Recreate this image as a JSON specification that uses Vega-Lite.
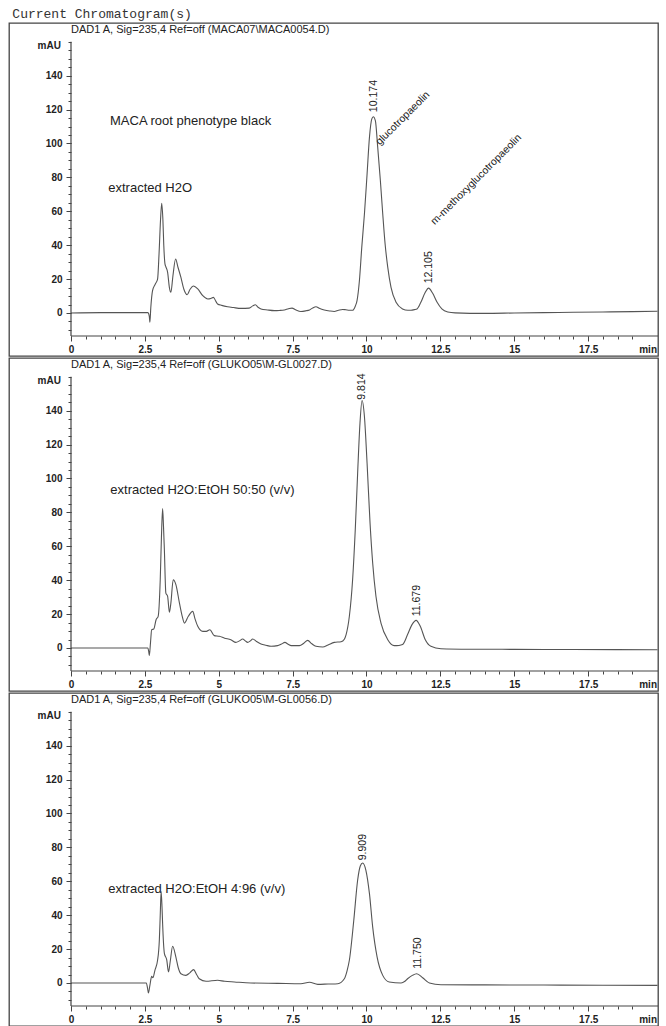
{
 "$schema": "https://vega.github.io/schema/vega-lite/v6.json",
 "background": "white",
 "padding": {"left": 8, "top": 8, "right": 0, "bottom": 0},
 "title": {"text": "Current Chromatogram(s)", "anchor": "start", "font": "Liberation Mono", "fontSize": 13, "fontWeight": "normal", "color": "#333", "offset": 1, "dx": 4},
 "config": {
  "view": {"stroke": "#444", "strokeWidth": 1.3},
  "font": "Liberation Sans",
  "axis": {"grid": false, "domain": false, "title": null, "labelOverlap": false, "labelFlush": false, "labelFontSize": 10, "labelFontWeight": "bold", "labelColor": "#222", "tickColor": "#444", "tickWidth": 1}
 },
 "spacing": 0,
 "datasets": {
  "p1": [
   {"t":0,"v":0},{"t":1,"v":0.2},{"t":2,"v":0.2},{"t":2.6,"v":0.2},{"t":2.65,"v":-2},{"t":2.67,"v":-5.5},{"t":2.7,"v":3},{"t":2.76,"v":13.2},{"t":2.85,"v":17},{"t":2.93,"v":20},{"t":2.98,"v":35},{"t":3.03,"v":55},{"t":3.07,"v":64.7},{"t":3.11,"v":55},{"t":3.14,"v":40},{"t":3.18,"v":29},{"t":3.21,"v":27.3},{"t":3.27,"v":24},{"t":3.33,"v":15},{"t":3.38,"v":12.2},{"t":3.45,"v":22},{"t":3.54,"v":31.9},{"t":3.62,"v":27},{"t":3.72,"v":21},{"t":3.82,"v":14},{"t":3.93,"v":10.8},{"t":4.03,"v":14},{"t":4.14,"v":15.9},{"t":4.29,"v":14.2},{"t":4.46,"v":10.2},{"t":4.63,"v":8.3},{"t":4.73,"v":8.6},{"t":4.82,"v":9.2},{"t":4.9,"v":7},{"t":4.96,"v":5.3},{"t":5.1,"v":4.5},{"t":5.3,"v":3.7},{"t":5.5,"v":3.2},{"t":5.75,"v":2.7},{"t":6.03,"v":2.9},{"t":6.15,"v":4.2},{"t":6.24,"v":4.9},{"t":6.33,"v":3.4},{"t":6.43,"v":2.4},{"t":6.65,"v":1.8},{"t":6.88,"v":1.4},{"t":7.05,"v":1.5},{"t":7.22,"v":1.8},{"t":7.36,"v":2.5},{"t":7.48,"v":2.9},{"t":7.6,"v":1.9},{"t":7.78,"v":0.9},{"t":7.95,"v":1.3},{"t":8.07,"v":1.8},{"t":8.18,"v":3},{"t":8.29,"v":3.7},{"t":8.42,"v":2.6},{"t":8.57,"v":1.8},{"t":8.75,"v":1.2},{"t":8.91,"v":0.9},{"t":9.05,"v":1.6},{"t":9.19,"v":2.1},{"t":9.3,"v":1.9},{"t":9.42,"v":1.6},{"t":9.53,"v":1.6},{"t":9.62,"v":4},{"t":9.68,"v":7.3},{"t":9.76,"v":19},{"t":9.84,"v":38.7},{"t":9.93,"v":58.4},{"t":10.02,"v":82},{"t":10.1,"v":103.6},{"t":10.18,"v":114.5},{"t":10.23,"v":115.8},{"t":10.3,"v":113.5},{"t":10.38,"v":97.7},{"t":10.47,"v":78},{"t":10.55,"v":58.4},{"t":10.63,"v":40.7},{"t":10.72,"v":26.9},{"t":10.83,"v":15.1},{"t":11.0,"v":6.3},{"t":11.22,"v":2.4},{"t":11.4,"v":1.6},{"t":11.51,"v":1.6},{"t":11.62,"v":2},{"t":11.71,"v":2.4},{"t":11.84,"v":6.3},{"t":11.99,"v":12.2},{"t":12.1,"v":14.7},{"t":12.24,"v":11.6},{"t":12.39,"v":6.3},{"t":12.55,"v":2.4},{"t":12.75,"v":0.6},{"t":13.0,"v":0.1},{"t":14.0,"v":-0.2},{"t":15.0,"v":0},{"t":16.0,"v":0.2},{"t":17.0,"v":0.4},{"t":18.0,"v":0.6},{"t":19.0,"v":0.8},{"t":19.85,"v":1}
  ],
  "p2": [
   {"t":0,"v":0},{"t":1,"v":0},{"t":2,"v":0},{"t":2.6,"v":0},{"t":2.63,"v":-2},{"t":2.65,"v":-4.5},{"t":2.69,"v":3},{"t":2.73,"v":10.8},{"t":2.8,"v":11.2},{"t":2.88,"v":16.7},{"t":2.95,"v":18.7},{"t":3.02,"v":40.3},{"t":3.06,"v":65},{"t":3.1,"v":82.2},{"t":3.13,"v":72},{"t":3.16,"v":58},{"t":3.21,"v":32.4},{"t":3.27,"v":30.5},{"t":3.33,"v":21.1},{"t":3.38,"v":26.5},{"t":3.46,"v":40.3},{"t":3.55,"v":37.4},{"t":3.67,"v":26.5},{"t":3.76,"v":19},{"t":3.84,"v":14.7},{"t":3.97,"v":18.7},{"t":4.12,"v":21.6},{"t":4.2,"v":17},{"t":4.29,"v":12.8},{"t":4.46,"v":9.8},{"t":4.58,"v":9.8},{"t":4.7,"v":10.8},{"t":4.85,"v":7.3},{"t":5.02,"v":6.9},{"t":5.2,"v":5.8},{"t":5.41,"v":4.9},{"t":5.58,"v":3.3},{"t":5.7,"v":4.2},{"t":5.81,"v":5.3},{"t":5.9,"v":4.2},{"t":5.98,"v":3.3},{"t":6.07,"v":4.2},{"t":6.15,"v":5.3},{"t":6.28,"v":3.8},{"t":6.43,"v":2.4},{"t":6.6,"v":1.6},{"t":6.77,"v":1},{"t":6.99,"v":1.4},{"t":7.12,"v":2.3},{"t":7.24,"v":3.3},{"t":7.35,"v":2.2},{"t":7.45,"v":1.4},{"t":7.73,"v":1.4},{"t":7.88,"v":2.8},{"t":8.01,"v":4.5},{"t":8.15,"v":2.5},{"t":8.29,"v":1},{"t":8.52,"v":0.6},{"t":8.7,"v":1.8},{"t":8.91,"v":3.3},{"t":9.14,"v":3.7},{"t":9.25,"v":5.2},{"t":9.31,"v":7.9},{"t":9.42,"v":18.7},{"t":9.53,"v":40.3},{"t":9.62,"v":69.8},{"t":9.7,"v":103},{"t":9.78,"v":132.7},{"t":9.85,"v":146},{"t":9.93,"v":136.6},{"t":10.02,"v":109},{"t":10.12,"v":73.7},{"t":10.21,"v":50},{"t":10.32,"v":30.5},{"t":10.49,"v":14.7},{"t":10.72,"v":4.9},{"t":10.94,"v":1.4},{"t":11.1,"v":1.5},{"t":11.22,"v":2},{"t":11.39,"v":7.9},{"t":11.54,"v":13.8},{"t":11.68,"v":16.3},{"t":11.82,"v":12.8},{"t":11.99,"v":4.9},{"t":12.18,"v":1},{"t":12.52,"v":-0.4},{"t":13.5,"v":-0.7},{"t":15,"v":-0.8},{"t":17,"v":-0.9},{"t":19.85,"v":-1}
  ],
  "p3": [
   {"t":0,"v":0},{"t":1,"v":0},{"t":2,"v":0},{"t":2.55,"v":0},{"t":2.59,"v":-3},{"t":2.62,"v":-5.9},{"t":2.67,"v":-1.4},{"t":2.73,"v":3.9},{"t":2.77,"v":3.1},{"t":2.84,"v":7.5},{"t":2.93,"v":13.4},{"t":2.99,"v":25.4},{"t":3.02,"v":40},{"t":3.05,"v":53.9},{"t":3.08,"v":45},{"t":3.1,"v":35.2},{"t":3.16,"v":17.5},{"t":3.24,"v":13.7},{"t":3.3,"v":6.5},{"t":3.36,"v":13},{"t":3.44,"v":21.7},{"t":3.55,"v":15.3},{"t":3.63,"v":9},{"t":3.72,"v":5.5},{"t":3.89,"v":4.5},{"t":4.02,"v":6},{"t":4.15,"v":7.9},{"t":4.25,"v":5},{"t":4.34,"v":2.5},{"t":4.57,"v":1},{"t":4.96,"v":1.6},{"t":5.2,"v":1},{"t":5.53,"v":0.6},{"t":6.09,"v":0},{"t":7.0,"v":-0.2},{"t":7.78,"v":-0.4},{"t":8.07,"v":0.4},{"t":8.35,"v":-0.8},{"t":8.7,"v":-0.6},{"t":9.03,"v":-0.4},{"t":9.25,"v":2.5},{"t":9.34,"v":7},{"t":9.42,"v":13.4},{"t":9.57,"v":37},{"t":9.7,"v":60.6},{"t":9.79,"v":69},{"t":9.87,"v":70.8},{"t":9.98,"v":66.5},{"t":10.1,"v":52.7},{"t":10.21,"v":33},{"t":10.36,"v":15.3},{"t":10.55,"v":4.5},{"t":10.77,"v":0.6},{"t":11.17,"v":0},{"t":11.3,"v":1},{"t":11.39,"v":2.5},{"t":11.55,"v":4.5},{"t":11.7,"v":5.5},{"t":11.9,"v":3.1},{"t":12.13,"v":0},{"t":12.52,"v":-1},{"t":14,"v":-1.1},{"t":16,"v":-1.2},{"t":18,"v":-1.3},{"t":19.85,"v":-1.4}
  ],
  "notes": [
   {"panel":1,"kind":"caption","t":1.32,"v":113,"text":"MACA root phenotype black"},
   {"panel":1,"kind":"caption","t":1.26,"v":73.5,"text":"extracted H2O"},
   {"panel":1,"kind":"rt","t":10.26,"v":118.5,"text":"10.174"},
   {"panel":1,"kind":"rt","t":12.13,"v":17.5,"text":"12.105"},
   {"panel":1,"kind":"compound","t":10.38,"v":100,"text":"glucotropaeolin"},
   {"panel":1,"kind":"compound","t":12.24,"v":53,"text":"m-methoxyglucotropaeolin"},
   {"panel":2,"kind":"caption","t":1.33,"v":93.4,"text":"extracted H2O:EtOH 50:50 (v/v)"},
   {"panel":2,"kind":"rt","t":9.85,"v":146.5,"text":"9.814"},
   {"panel":2,"kind":"rt","t":11.71,"v":18.7,"text":"11.679"},
   {"panel":3,"kind":"caption","t":1.26,"v":55.3,"text":"extracted H2O:EtOH 4:96 (v/v)"},
   {"panel":3,"kind":"rt","t":9.87,"v":72.4,"text":"9.909"},
   {"panel":3,"kind":"rt","t":11.73,"v":8.4,"text":"11.750"}
  ],
  "headers": [
   {"panel":1,"text":"DAD1 A, Sig=235,4 Ref=off (MACA07\\MACA0054.D)"},
   {"panel":2,"text":"DAD1 A, Sig=235,4 Ref=off (GLUKO05\\M-GL0027.D)"},
   {"panel":3,"text":"DAD1 A, Sig=235,4 Ref=off (GLUKO05\\M-GL0056.D)"}
  ]
 },
 "vconcat": [
  {
   "width": 649, "height": 333,
   "resolve": {"axis": {"x": "independent", "y": "independent"}},
   "layer": [
    {"data": {"name": "p1"}, "mark": {"type": "line", "color": "#555", "strokeWidth": 1.1, "interpolate": "monotone"},
     "encoding": {
      "x": {"field": "t", "type": "quantitative", "scale": {"domain": [-2.098, 19.865], "nice": false, "zero": false},
       "axis": {"orient": "bottom", "offset": -20, "values": [0,2.5,5,7.5,10,12.5,15,17.5], "format": ".3~g", "tickSize": 5, "labelPadding": 3}},
      "y": {"field": "v", "type": "quantitative", "scale": {"domain": [-25.37, 171.09], "nice": false, "zero": false},
       "axis": {"orient": "left", "offset": -62, "values": [0,20,40,60,80,100,120,140], "format": "d", "tickSize": 5, "labelPadding": 4}}
     }},
    {"data": {"values": [{}]}, "mark": {"type": "rule", "color": "#444", "strokeWidth": 1.2},
     "encoding": {"x": {"datum": 0, "type": "quantitative", "axis": null},
      "y": {"datum": -13.57, "type": "quantitative", "axis": {"orient": "left", "offset": -62, "labels": false, "tickSize": 3, "values": [-10,-5,0,5,10,15,20,25,30,35,40,45,50,55,60,65,70,75,80,85,90,95,100,105,110,115,120,125,130,135,140,145,150,155,160]}},
      "y2": {"datum": 160}}},
    {"data": {"values": [{}]}, "mark": {"type": "rule", "color": "#444", "strokeWidth": 1.2},
     "encoding": {"x": {"datum": 0, "type": "quantitative", "axis": {"orient": "bottom", "offset": -20, "labels": false, "tickSize": 3, "values": [0,0.5,1,1.5,2,2.5,3,3.5,4,4.5,5,5.5,6,6.5,7,7.5,8,8.5,9,9.5,10,10.5,11,11.5,12,12.5,13,13.5,14,14.5,15,15.5,16,16.5,17,17.5,18,18.5,19]}},
      "x2": {"datum": 19.865}, "y": {"datum": -13.57, "type": "quantitative", "axis": null}}},
    {"data": {"values": [{}]}, "mark": {"type": "text", "text": "mAU", "align": "right", "baseline": "middle", "fontSize": 10, "fontWeight": "bold", "color": "#222"},
     "encoding": {"x": {"datum": -0.34, "type": "quantitative", "axis": null}, "y": {"datum": 157.5, "type": "quantitative", "axis": null}}},
    {"data": {"values": [{}]}, "mark": {"type": "text", "text": "min", "align": "center", "baseline": "middle", "fontSize": 10, "fontWeight": "bold", "color": "#222"},
     "encoding": {"x": {"datum": 19.53, "type": "quantitative", "axis": null}, "y": {"datum": -21.65, "type": "quantitative", "axis": null}}},
    {"data": {"name": "headers"}, "transform": [{"filter": "datum.panel == 1"}], "mark": {"type": "text", "align": "left", "baseline": "middle", "fontSize": 11, "color": "#222"},
     "encoding": {"x": {"datum": 0, "type": "quantitative", "axis": null}, "y": {"datum": 167, "type": "quantitative", "axis": null}, "text": {"field": "text"}}},
    {"data": {"name": "notes"}, "transform": [{"filter": "datum.panel == 1 && datum.kind == 'caption'"}], "mark": {"type": "text", "align": "left", "baseline": "middle", "fontSize": 13, "color": "#222"},
     "encoding": {"x": {"field": "t", "type": "quantitative", "axis": null}, "y": {"field": "v", "type": "quantitative", "axis": null}, "text": {"field": "text"}}},
    {"data": {"name": "notes"}, "transform": [{"filter": "datum.panel == 1 && datum.kind == 'rt'"}], "mark": {"type": "text", "align": "left", "baseline": "middle", "angle": 270, "fontSize": 10.5, "color": "#222"},
     "encoding": {"x": {"field": "t", "type": "quantitative", "axis": null}, "y": {"field": "v", "type": "quantitative", "axis": null}, "text": {"field": "text"}}},
    {"data": {"name": "notes"}, "transform": [{"filter": "datum.panel == 1 && datum.kind == 'compound'"}], "mark": {"type": "text", "align": "left", "baseline": "middle", "angle": 315, "fontSize": 10.5, "color": "#222"},
     "encoding": {"x": {"field": "t", "type": "quantitative", "axis": null}, "y": {"field": "v", "type": "quantitative", "axis": null}, "text": {"field": "text"}}}
   ]
  },
  {
   "width": 649, "height": 333,
   "resolve": {"axis": {"x": "independent", "y": "independent"}},
   "layer": [
    {"data": {"name": "p2"}, "mark": {"type": "line", "color": "#555", "strokeWidth": 1.1, "interpolate": "monotone"},
     "encoding": {
      "x": {"field": "t", "type": "quantitative", "scale": {"domain": [-2.098, 19.865], "nice": false, "zero": false},
       "axis": {"orient": "bottom", "offset": -20, "values": [0,2.5,5,7.5,10,12.5,15,17.5], "format": ".3~g", "tickSize": 5, "labelPadding": 3}},
      "y": {"field": "v", "type": "quantitative", "scale": {"domain": [-25.37, 171.09], "nice": false, "zero": false},
       "axis": {"orient": "left", "offset": -62, "values": [0,20,40,60,80,100,120,140], "format": "d", "tickSize": 5, "labelPadding": 4}}
     }},
    {"data": {"values": [{}]}, "mark": {"type": "rule", "color": "#444", "strokeWidth": 1.2},
     "encoding": {"x": {"datum": 0, "type": "quantitative", "axis": null},
      "y": {"datum": -13.57, "type": "quantitative", "axis": {"orient": "left", "offset": -62, "labels": false, "tickSize": 3, "values": [-10,-5,0,5,10,15,20,25,30,35,40,45,50,55,60,65,70,75,80,85,90,95,100,105,110,115,120,125,130,135,140,145,150,155,160]}},
      "y2": {"datum": 160}}},
    {"data": {"values": [{}]}, "mark": {"type": "rule", "color": "#444", "strokeWidth": 1.2},
     "encoding": {"x": {"datum": 0, "type": "quantitative", "axis": {"orient": "bottom", "offset": -20, "labels": false, "tickSize": 3, "values": [0,0.5,1,1.5,2,2.5,3,3.5,4,4.5,5,5.5,6,6.5,7,7.5,8,8.5,9,9.5,10,10.5,11,11.5,12,12.5,13,13.5,14,14.5,15,15.5,16,16.5,17,17.5,18,18.5,19]}},
      "x2": {"datum": 19.865}, "y": {"datum": -13.57, "type": "quantitative", "axis": null}}},
    {"data": {"values": [{}]}, "mark": {"type": "text", "text": "mAU", "align": "right", "baseline": "middle", "fontSize": 10, "fontWeight": "bold", "color": "#222"},
     "encoding": {"x": {"datum": -0.34, "type": "quantitative", "axis": null}, "y": {"datum": 157.5, "type": "quantitative", "axis": null}}},
    {"data": {"values": [{}]}, "mark": {"type": "text", "text": "min", "align": "center", "baseline": "middle", "fontSize": 10, "fontWeight": "bold", "color": "#222"},
     "encoding": {"x": {"datum": 19.53, "type": "quantitative", "axis": null}, "y": {"datum": -21.65, "type": "quantitative", "axis": null}}},
    {"data": {"name": "headers"}, "transform": [{"filter": "datum.panel == 2"}], "mark": {"type": "text", "align": "left", "baseline": "middle", "fontSize": 11, "color": "#222"},
     "encoding": {"x": {"datum": 0, "type": "quantitative", "axis": null}, "y": {"datum": 167, "type": "quantitative", "axis": null}, "text": {"field": "text"}}},
    {"data": {"name": "notes"}, "transform": [{"filter": "datum.panel == 2 && datum.kind == 'caption'"}], "mark": {"type": "text", "align": "left", "baseline": "middle", "fontSize": 13, "color": "#222"},
     "encoding": {"x": {"field": "t", "type": "quantitative", "axis": null}, "y": {"field": "v", "type": "quantitative", "axis": null}, "text": {"field": "text"}}},
    {"data": {"name": "notes"}, "transform": [{"filter": "datum.panel == 2 && datum.kind == 'rt'"}], "mark": {"type": "text", "align": "left", "baseline": "middle", "angle": 270, "fontSize": 10.5, "color": "#222"},
     "encoding": {"x": {"field": "t", "type": "quantitative", "axis": null}, "y": {"field": "v", "type": "quantitative", "axis": null}, "text": {"field": "text"}}}
   ]
  },
  {
   "width": 649, "height": 333,
   "resolve": {"axis": {"x": "independent", "y": "independent"}},
   "layer": [
    {"data": {"name": "p3"}, "mark": {"type": "line", "color": "#555", "strokeWidth": 1.1, "interpolate": "monotone"},
     "encoding": {
      "x": {"field": "t", "type": "quantitative", "scale": {"domain": [-2.098, 19.865], "nice": false, "zero": false},
       "axis": {"orient": "bottom", "offset": -20, "values": [0,2.5,5,7.5,10,12.5,15,17.5], "format": ".3~g", "tickSize": 5, "labelPadding": 3}},
      "y": {"field": "v", "type": "quantitative", "scale": {"domain": [-25.37, 171.09], "nice": false, "zero": false},
       "axis": {"orient": "left", "offset": -62, "values": [0,20,40,60,80,100,120,140], "format": "d", "tickSize": 5, "labelPadding": 4}}
     }},
    {"data": {"values": [{}]}, "mark": {"type": "rule", "color": "#444", "strokeWidth": 1.2},
     "encoding": {"x": {"datum": 0, "type": "quantitative", "axis": null},
      "y": {"datum": -13.57, "type": "quantitative", "axis": {"orient": "left", "offset": -62, "labels": false, "tickSize": 3, "values": [-10,-5,0,5,10,15,20,25,30,35,40,45,50,55,60,65,70,75,80,85,90,95,100,105,110,115,120,125,130,135,140,145,150,155,160]}},
      "y2": {"datum": 160}}},
    {"data": {"values": [{}]}, "mark": {"type": "rule", "color": "#444", "strokeWidth": 1.2},
     "encoding": {"x": {"datum": 0, "type": "quantitative", "axis": {"orient": "bottom", "offset": -20, "labels": false, "tickSize": 3, "values": [0,0.5,1,1.5,2,2.5,3,3.5,4,4.5,5,5.5,6,6.5,7,7.5,8,8.5,9,9.5,10,10.5,11,11.5,12,12.5,13,13.5,14,14.5,15,15.5,16,16.5,17,17.5,18,18.5,19]}},
      "x2": {"datum": 19.865}, "y": {"datum": -13.57, "type": "quantitative", "axis": null}}},
    {"data": {"values": [{}]}, "mark": {"type": "text", "text": "mAU", "align": "right", "baseline": "middle", "fontSize": 10, "fontWeight": "bold", "color": "#222"},
     "encoding": {"x": {"datum": -0.34, "type": "quantitative", "axis": null}, "y": {"datum": 157.5, "type": "quantitative", "axis": null}}},
    {"data": {"values": [{}]}, "mark": {"type": "text", "text": "min", "align": "center", "baseline": "middle", "fontSize": 10, "fontWeight": "bold", "color": "#222"},
     "encoding": {"x": {"datum": 19.53, "type": "quantitative", "axis": null}, "y": {"datum": -21.65, "type": "quantitative", "axis": null}}},
    {"data": {"name": "headers"}, "transform": [{"filter": "datum.panel == 3"}], "mark": {"type": "text", "align": "left", "baseline": "middle", "fontSize": 11, "color": "#222"},
     "encoding": {"x": {"datum": 0, "type": "quantitative", "axis": null}, "y": {"datum": 167, "type": "quantitative", "axis": null}, "text": {"field": "text"}}},
    {"data": {"name": "notes"}, "transform": [{"filter": "datum.panel == 3 && datum.kind == 'caption'"}], "mark": {"type": "text", "align": "left", "baseline": "middle", "fontSize": 13, "color": "#222"},
     "encoding": {"x": {"field": "t", "type": "quantitative", "axis": null}, "y": {"field": "v", "type": "quantitative", "axis": null}, "text": {"field": "text"}}},
    {"data": {"name": "notes"}, "transform": [{"filter": "datum.panel == 3 && datum.kind == 'rt'"}], "mark": {"type": "text", "align": "left", "baseline": "middle", "angle": 270, "fontSize": 10.5, "color": "#222"},
     "encoding": {"x": {"field": "t", "type": "quantitative", "axis": null}, "y": {"field": "v", "type": "quantitative", "axis": null}, "text": {"field": "text"}}}
   ]
  }
 ]
}
